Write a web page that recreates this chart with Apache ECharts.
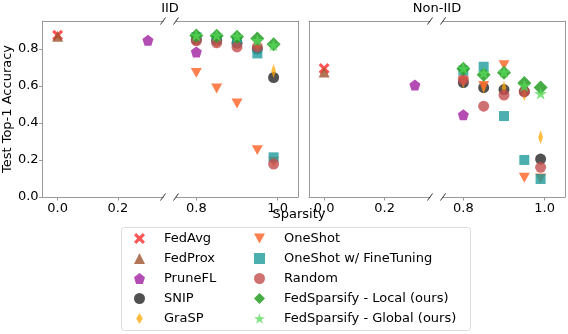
<!DOCTYPE html>
<html>
<head>
    <meta charset="utf-8">
    <title>Sparsity vs accuracy</title>
    <script src="https://cdn.jsdelivr.net/npm/echarts@6/dist/echarts.min.js"></script>
    <style>
        html, body { margin: 0; padding: 0; background: #fff; }
        #chart1 { width: 568px; height: 334px; }
    </style>
</head>
<body>
<div id="chart1"></div>
<script>
    // sparsity levels of the pruned methods
    var sparsity = [0.8, 0.85, 0.9, 0.95, 0.99];
    var denseX = [0.0];
    var pruneflX = [0.3, 0.8];

    // IID accuracies
    var iidFedAvg = [0.873];
    var iidFedProx = [0.868];
    var iidPruneFL = [0.846, 0.783];
    var iidSnip = [0.85, 0.845, 0.83, 0.80, 0.645];
    var iidGrasp = [0.855, 0.84, 0.83, 0.81, 0.68];
    var iidOneShot = [0.67, 0.586, 0.505, 0.253, 0.19];
    var iidOneShotFT = [0.862, 0.855, 0.837, 0.775, 0.214];
    var iidRandom = [0.843, 0.832, 0.81, 0.81, 0.178];
    var iidLocal = [0.872, 0.87, 0.865, 0.855, 0.825];
    var iidGlobal = [0.873, 0.873, 0.868, 0.845, 0.82];

    // Non-IID accuracies
    var nonFedAvg = [0.694];
    var nonFedProx = [0.675];
    var nonPruneFL = [0.604, 0.444];
    var nonSnip = [0.618, 0.59, 0.58, 0.57, 0.205];
    var nonGrasp = [0.625, 0.595, 0.59, 0.555, 0.322];
    var nonOneShot = [0.625, 0.6, 0.712, 0.104, 0.10];
    var nonOneShotFT = [0.682, 0.703, 0.437, 0.2, 0.097];
    var nonRandom = [0.633, 0.49, 0.55, 0.568, 0.16];
    var nonLocal = [0.692, 0.66, 0.67, 0.616, 0.591];
    var nonGlobal = [0.695, 0.67, 0.675, 0.6, 0.559];

    var xTicksLeft = [0, 0.2];
    var xTicksRight = [0.8, 1.0];
    var yTicks = [0, 0.2, 0.4, 0.6, 0.8];

    var FONT = 'DejaVu Sans';
    var FS = 13;
    var SPINE = '#999';

    // marker shapes
    var X_PATH = 'path://M2,0 L5,3 L8,0 L10,2 L7,5 L10,8 L8,10 L5,7 L2,10 L0,8 L3,5 L0,2 Z';
    var PENT_PATH = 'path://M5,0 L10,3.8 L8.1,10 L1.9,10 L0,3.8 Z';
    var STAR_PATH = 'path://M5,0 L6.2,3.6 L10,3.6 L6.9,5.9 L8.1,9.5 L5,7.3 L1.9,9.5 L3.1,5.9 L0,3.6 L3.8,3.6 Z';
    var TDOWN_PATH = 'path://M0,0 L10,0 L5,9 Z';
    var THIN_DIAMOND = 'path://M3,0 L6,5 L3,10 L0,5 Z';

    var methods = [
        {name: 'FedAvg', symbol: X_PATH, size: 11, color: '#ff2a2a', op: 0.8, xs: denseX, iid: iidFedAvg, non: nonFedAvg},
        {name: 'FedProx', symbol: 'triangle', size: 11, color: '#a0522d', op: 0.8, xs: denseX, iid: iidFedProx, non: nonFedProx},
        {name: 'PruneFL', symbol: PENT_PATH, size: 11, color: '#a020a0', op: 0.8, xs: pruneflX, iid: iidPruneFL, non: nonPruneFL},
        {name: 'SNIP', symbol: 'circle', size: 11, color: '#333333', op: 0.85, xs: sparsity, iid: iidSnip, non: nonSnip},
        {name: 'GraSP', symbol: THIN_DIAMOND, size: [8, 14], color: '#ffa500', op: 0.75, xs: sparsity, iid: iidGrasp, non: nonGrasp},
        {name: 'OneShot', symbol: TDOWN_PATH, size: 11, color: '#ff6a30', op: 0.85, xs: sparsity, iid: iidOneShot, non: nonOneShot},
        {name: 'OneShot w/ FineTuning', symbol: 'rect', size: 10, color: '#1a9898', op: 0.78, xs: sparsity, iid: iidOneShotFT, non: nonOneShotFT},
        {name: 'Random', symbol: 'circle', size: 11, color: '#c44e4e', op: 0.8, xs: sparsity, iid: iidRandom, non: nonRandom},
        {name: 'FedSparsify - Local (ours)', symbol: 'diamond', size: 14, color: '#2ca02c', op: 0.88, xs: sparsity, iid: iidLocal, non: nonLocal},
        {name: 'FedSparsify - Global (ours)', symbol: STAR_PATH, size: 13, color: '#55d855', op: 0.75, xs: sparsity, iid: iidGlobal, non: nonGlobal}
    ];

    // layout of the four sub-grids (IID left/right, Non-IID left/right)
    var TOP = 21, HEIGHT = 176;
    var grids = [
        {left: 42, width: 121, min: -0.05, max: 0.35},
        {left: 176, width: 122, min: 0.75, max: 1.05},
        {left: 309, width: 121, min: -0.05, max: 0.35},
        {left: 443, width: 122, min: 0.75, max: 1.05}
    ];

    var gridOpt = [], xAxes = [], yAxes = [], series = [], graphics = [];

    grids.forEach(function (g, i) {
        var isLeft = (i % 2 === 0);
        gridOpt.push({left: g.left, top: TOP, width: g.width, height: HEIGHT, containLabel: false});
        xAxes.push({
            type: 'value', gridIndex: i, min: g.min, max: g.max, position: 'bottom',
            axisLine: {show: true, onZero: false, lineStyle: {color: SPINE, width: 1}},
            axisTick: {show: true, length: 3.5, lineStyle: {color: SPINE}, customValues: isLeft ? xTicksLeft : xTicksRight},
            axisLabel: {show: true, customValues: isLeft ? xTicksLeft : xTicksRight, color: '#000', fontSize: FS, fontFamily: FONT, margin: 5,
                formatter: function (v) { return v.toFixed(1); }},
            splitLine: {show: false}
        });
        yAxes.push({
            type: 'value', gridIndex: i, min: 0, max: 0.95,
            position: isLeft ? 'left' : 'right',
            axisLine: {show: true, onZero: false, lineStyle: {color: SPINE, width: 1}},
            axisTick: {show: i === 0, length: 3.5, lineStyle: {color: SPINE}, customValues: yTicks},
            axisLabel: {show: i === 0, customValues: yTicks, color: '#000', fontSize: FS, fontFamily: FONT, margin: 4,
                formatter: function (v) { return v.toFixed(1); }},
            splitLine: {show: false},
            name: i === 0 ? 'Test Top-1 Accuracy' : '',
            nameLocation: 'middle', nameGap: 22, nameRotate: 90,
            nameTextStyle: {color: '#000', fontSize: FS, fontFamily: FONT}
        });
    });
    // top spines
    grids.forEach(function (g, i) {
        xAxes.push({
            type: 'value', gridIndex: i, min: g.min, max: g.max, position: 'top',
            axisLine: {show: true, onZero: false, lineStyle: {color: SPINE, width: 1}},
            axisTick: {show: false}, axisLabel: {show: false}, splitLine: {show: false}
        });
    });

    // broken axis marks
    [[163, 176], [430, 443]].forEach(function (pair) {
        pair.forEach(function (x) {
            [TOP, TOP + HEIGHT].forEach(function (y) {
                graphics.push({type: 'line', shape: {x1: x - 2.5, y1: y + 3.5, x2: x + 2.5, y2: y - 3.5},
                    style: {stroke: '#333', lineWidth: 1}, z: 10});
            });
        });
    });

    // titles and shared x label
    var font = FS + 'px "DejaVu Sans"';
    graphics.push({type: 'text', x: 170, y: 9, style: {text: 'IID', fill: '#000', font: font, align: 'center', verticalAlign: 'middle'}});
    graphics.push({type: 'text', x: 437, y: 9, style: {text: 'Non-IID', fill: '#000', font: font, align: 'center', verticalAlign: 'middle'}});
    graphics.push({type: 'text', x: 299, y: 215, style: {text: 'Sparsity', fill: '#000', font: font, align: 'center', verticalAlign: 'middle'}});
    // legend frame
    graphics.push({type: 'rect', shape: {x: 121.5, y: 227.5, width: 349, height: 103, r: 3},
        style: {fill: '#fff', stroke: '#dcdcdc', lineWidth: 1}, z: -1});

    methods.forEach(function (m) {
        [m.iid, m.non].forEach(function (vals, panel) {
            var left = [], right = [];
            m.xs.forEach(function (x, k) {
                if (x < 0.5) left.push([x, vals[k]]); else right.push([x, vals[k]]);
            });
            [left, right].forEach(function (pts, side) {
                if (!pts.length) return;
                var gi = panel * 2 + side;
                series.push({
                    name: m.name, type: 'scatter', xAxisIndex: gi, yAxisIndex: gi,
                    symbol: m.symbol, symbolSize: m.size, symbolKeepAspect: true,
                    itemStyle: {color: m.color, opacity: m.op},
                    emphasis: {disabled: true},
                    data: pts
                });
            });
        });
    });

    function legendBlock(names, left) {
        return {
            data: names, orient: 'vertical', left: left, top: 231, height: 100,
            itemWidth: 11, itemHeight: 11, itemGap: 5, padding: 0,
            textStyle: {color: '#000', fontSize: FS, fontFamily: FONT, lineHeight: 15, padding: [0, 0, 0, 14]},
            selectedMode: false
        };
    }

    var names = methods.map(function (m) { return m.name; });

    var myChart = echarts.init(document.getElementById('chart1'), null, {renderer: 'canvas'});
    var option = {
        animation: false,
        backgroundColor: '#fff',
        grid: gridOpt,
        xAxis: xAxes,
        yAxis: yAxes,
        legend: [legendBlock(names.slice(0, 5), 134), legendBlock(names.slice(5), 254)],
        graphic: graphics,
        series: series
    };
    myChart.setOption(option);
</script>
</body>
</html>
